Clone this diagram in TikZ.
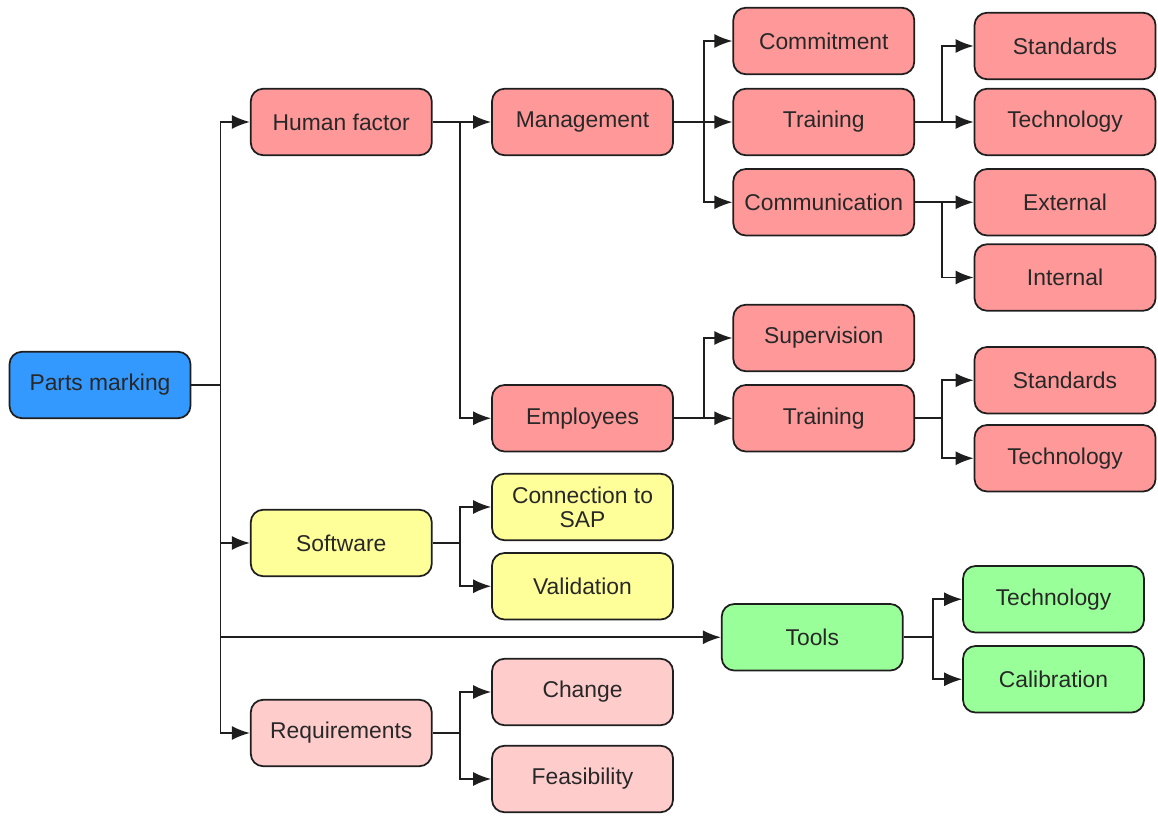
\documentclass[tikz,border=0pt]{standalone}
\usepackage{fontspec}
\setmainfont{Liberation Sans}
\usepackage{tikz}
\usetikzlibrary{arrows,arrows.meta,shapes,positioning}
\usepackage{xcolor}
\definecolor{pmblue}{RGB}{51,153,255}
\definecolor{pmred}{RGB}{255,153,153}
\definecolor{pmyellow}{RGB}{255,255,153}
\definecolor{pmgreen}{RGB}{153,255,153}
\definecolor{pmpink}{RGB}{255,204,204}
\definecolor{pmline}{RGB}{30,30,30}
\definecolor{pmtext}{RGB}{40,40,40}
\tikzstyle{arrow} = [line width=1pt,->,>={Latex[length=3.6mm,width=2.8mm]},color=pmline]
\tikzstyle{factorbox} = [rectangle, rounded corners=0.25cm, minimum width=3.62cm, minimum height=1.33cm, inner sep=1pt, align=center, draw=pmline, line width=1pt, text=pmtext, font=\fontsize{13}{13.5}\selectfont]
\tikzstyle{rootbox} = [factorbox, fill=pmblue]
\tikzstyle{humanbox} = [factorbox, fill=pmred]
\tikzstyle{softbox} = [factorbox, fill=pmyellow]
\tikzstyle{toolbox} = [factorbox, fill=pmgreen]
\tikzstyle{reqbox} = [factorbox, fill=pmpink]
\begin{document}
\begin{tikzpicture}[node distance=1.17cm]
\useasboundingbox (-2.0,-8.62) rectangle (21.16,7.70);
% Root
\node[rootbox] (root) {Parts marking};

% Human factor
\node[humanbox, right=1.17cm of root, yshift=5.26cm] (human) {Human factor};
\node[humanbox, right=1.17cm of human] (mgmt) {Management};
\node[humanbox, right=1.17cm of mgmt, yshift=1.62cm] (commit) {Commitment};
\node[humanbox, right=1.17cm of mgmt] (trainA) {Training};
\node[humanbox, below=0.24cm of trainA] (comm) {Communication};
\node[humanbox, right=1.17cm of trainA, yshift=1.52cm] (stdA) {Standards};
\node[humanbox, right=1.17cm of trainA] (techA) {Technology};
\node[humanbox, right=1.17cm of comm] (ext) {External};
\node[humanbox, below=0.14cm of ext] (int) {Internal};
\node[humanbox, below=4.56cm of mgmt] (empl) {Employees};
\node[humanbox, right=1.17cm of empl] (trainB) {Training};
\node[humanbox, above=0.24cm of trainB] (superv) {Supervision};
\node[humanbox, right=1.17cm of trainB, yshift=0.76cm] (stdB) {Standards};
\node[humanbox, right=1.17cm of trainB, yshift=-0.80cm] (techB) {Technology};

% Software
\node[softbox, right=1.17cm of root, yshift=-3.16cm] (soft) {Software};
\node[softbox, right=1.17cm of soft, yshift=0.72cm] (sap) {Connection to\\SAP};
\node[softbox, below=0.22cm of sap] (valid) {Validation};

% Tools
\node[toolbox, right=0.94cm of valid, yshift=-1.02cm] (tools) {Tools};
\node[toolbox, right=1.17cm of tools, yshift=0.76cm] (techC) {Technology};
\node[toolbox, right=1.17cm of tools, yshift=-0.84cm] (calib) {Calibration};

% Requirements
\node[reqbox, right=1.17cm of root, yshift=-6.96cm] (req) {Requirements};
\node[reqbox, right=1.17cm of req, yshift=0.82cm] (change) {Change};
\node[reqbox, right=1.17cm of req, yshift=-0.92cm] (feas) {Feasibility};

% Arrows
\draw[arrow] (root.east) -- ++(0.58,0) |- (human.west);
\draw[arrow] (root.east) -- ++(0.58,0) |- (soft.west);
\draw[arrow] (root.east) -- ++(0.58,0) |- (tools.west);
\draw[arrow] (root.east) -- ++(0.58,0) |- (req.west);
\draw[arrow] (human.east) -- ++(0.54,0) |- (mgmt.west);
\draw[arrow] (human.east) -- ++(0.54,0) |- (empl.west);
\draw[arrow] (mgmt.east) -- ++(0.6,0) |- (commit.west);
\draw[arrow] (mgmt.east) -- ++(0.6,0) |- (trainA.west);
\draw[arrow] (mgmt.east) -- ++(0.6,0) |- (comm.west);
\draw[arrow] (trainA.east) -- ++(0.54,0) |- (stdA.west);
\draw[arrow] (trainA.east) -- ++(0.54,0) |- (techA.west);
\draw[arrow] (comm.east) -- ++(0.54,0) |- (ext.west);
\draw[arrow] (comm.east) -- ++(0.54,0) |- (int.west);
\draw[arrow] (empl.east) -- ++(0.6,0) |- (superv.west);
\draw[arrow] (empl.east) -- ++(0.6,0) |- (trainB.west);
\draw[arrow] (trainB.east) -- ++(0.54,0) |- (stdB.west);
\draw[arrow] (trainB.east) -- ++(0.54,0) |- (techB.west);
\draw[arrow] (soft.east) -- ++(0.54,0) |- (sap.west);
\draw[arrow] (soft.east) -- ++(0.54,0) |- (valid.west);
\draw[arrow] (tools.east) -- ++(0.58,0) |- (techC.west);
\draw[arrow] (tools.east) -- ++(0.58,0) |- (calib.west);
\draw[arrow] (req.east) -- ++(0.54,0) |- (change.west);
\draw[arrow] (req.east) -- ++(0.54,0) |- (feas.west);
\end{tikzpicture}
\end{document}
